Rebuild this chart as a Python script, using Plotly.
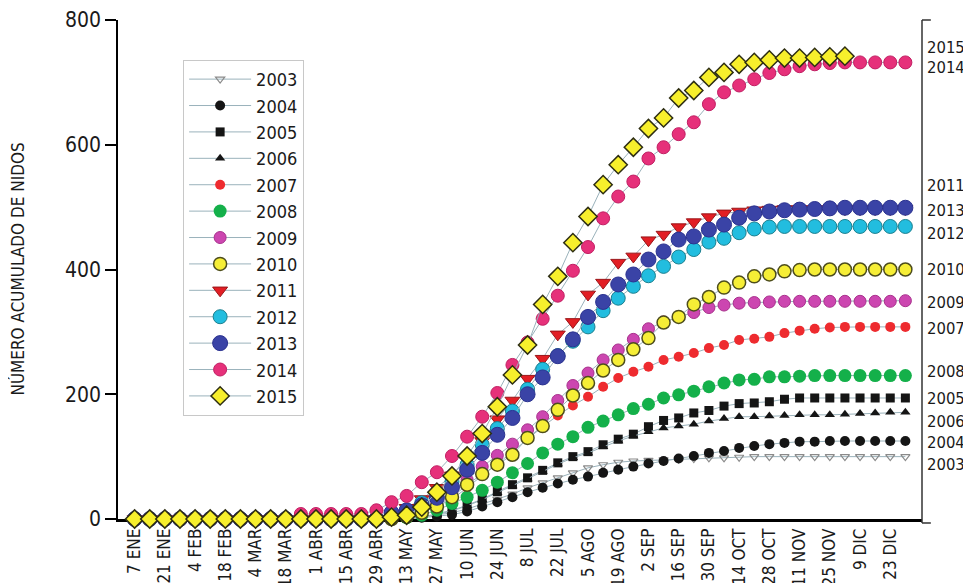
import plotly.graph_objects as go

# weekly census dates (x categories)
WEEKS = ["7 ENE", "14 ENE", "21 ENE", "28 ENE", "4 FEB", "11 FEB", "18 FEB", "25 FEB",
         "4 MAR", "11 MAR", "18 MAR", "25 MAR", "1 ABR", "8 ABR", "15 ABR", "22 ABR",
         "29 ABR", "6 MAY", "13 MAY", "20 MAY", "27 MAY", "3 JUN", "10 JUN", "17 JUN",
         "24 JUN", "1 JUL", "8 JUL", "15 JUL", "22 JUL", "29 JUL", "5 AGO", "12 AGO",
         "19 AGO", "26 AGO", "2 SEP", "9 SEP", "16 SEP", "23 SEP", "30 SEP", "7 OCT",
         "14 OCT", "21 OCT", "28 OCT", "4 NOV", "11 NOV", "18 NOV", "25 NOV", "2 DIC",
         "9 DIC", "16 DIC", "23 DIC", "30 DIC"]

TICK_LABELS = ["7 ENE", "21 ENE", "4 FEB", "18 FEB", "4 MAR", "18 MAR", "1 ABR", "15 ABR",
               "29 ABR", "13 MAY", "27 MAY", "10 JUN", "24 JUN", "8 JUL", "22 JUL", "5 AGO",
               "19 AGO", "2 SEP", "16 SEP", "30 SEP", "14 OCT", "28 OCT", "11 NOV", "25 NOV",
               "9 DIC", "23 DIC"]

Y2003 = [0, 0, 0, 0, 0, 0, 0, 0, 0, 0, 0, 0, 0, 0, 0, 0, 0, 0,
         1, 3, 6, 10, 16, 24, 32, 40, 50, 58, 66, 74, 82, 87, 91, 93, 94, 95, 96, 97,
         98, 98, 99, 100, 100, 100, 100, 100, 100, 100, 100, 100, 100, 100]
Y2004 = [0, 0, 0, 0, 0, 0, 0, 0, 0, 0, 0, 0, 0, 0, 0, 0, 0, 0,
         0, 2, 4, 7, 12, 20, 27, 35, 43, 50, 57, 63, 68, 74, 79, 84, 89, 93, 97, 101,
         106, 109, 114, 117, 120, 122, 124, 124, 125, 125, 125, 125, 125, 125]
Y2005 = [0, 0, 0, 0, 0, 0, 0, 0, 0, 0, 0, 0, 0, 0, 0, 0, 0, 0,
         1, 3, 8, 14, 22, 32, 44, 55, 66, 78, 90, 100, 108, 119, 128, 136, 148, 158, 162, 170,
         174, 181, 185, 186, 188, 192, 194, 194, 194, 194, 194, 194, 194, 194]
Y2006 = [0, 0, 0, 0, 0, 0, 0, 0, 0, 0, 0, 0, 0, 0, 0, 0, 0, 0,
         1, 3, 7, 13, 21, 31, 42, 53, 64, 76, 88, 98, 106, 116, 125, 133, 140, 146, 149, 152,
         157, 161, 164, 164, 165, 166, 167, 167, 167, 168, 169, 170, 171, 171]
Y2007 = [0, 0, 0, 0, 0, 0, 0, 0, 0, 0, 0, 0, 0, 0, 0, 0, 0, 0,
         3, 10, 20, 32, 50, 70, 88, 108, 128, 148, 166, 182, 196, 212, 226, 236, 244, 255, 260, 266,
         274, 279, 287, 289, 292, 298, 302, 305, 307, 308, 308, 308, 308, 308]
Y2008 = [0, 0, 0, 0, 0, 0, 0, 0, 0, 0, 0, 0, 0, 0, 0, 0, 0, 0,
         2, 6, 14, 25, 35, 46, 59, 74, 89, 106, 120, 132, 147, 157, 167, 177, 184, 194, 199, 205,
         212, 218, 223, 224, 228, 228, 229, 230, 230, 230, 230, 230, 230, 230]
Y2009 = [0, 0, 0, 0, 0, 0, 0, 0, 0, 0, 0, 0, 0, 0, 0, 0, 0,
         2, 5, 14, 27, 44, 63, 84, 102, 120, 143, 164, 190, 214, 234, 255, 271, 288, 305, 316, 324,
         331, 339, 343, 346, 347, 348, 349, 349, 349, 349, 349, 349, 349, 349, 350]
Y2010 = [0, 0, 0, 0, 0, 0, 0, 0, 0, 0, 0, 0, 0, 0, 0, 0, 0, 0,
         4, 10, 20, 35, 55, 72, 87, 103, 130, 149, 175, 198, 218, 238, 255, 272, 290, 315, 324, 344,
         356, 371, 379, 389, 392, 397, 399, 400, 400, 400, 400, 400, 400, 400]
Y2011 = [0, 0, 0, 0, 0, 0, 0, 0, 0, 0, 0, 0, 0, 0, 0, 0, 0,
         8, 18, 32, 50, 70, 95, 125, 160, 190, 225, 257, 296, 316, 360, 379, 411, 421, 447, 456, 468,
         476, 484, 490, 493, 495, 496, 497, 497, 497, 497, 497, 497, 497, 497, 497]
Y2012 = [0, 0, 0, 0, 0, 0, 0, 0, 0, 0, 0, 0, 0, 0, 0, 0, 0,
         8, 14, 26, 42, 60, 87, 119, 145, 173, 208, 240, 262, 285, 308, 334, 354, 373, 390, 405, 420,
         432, 444, 450, 459, 465, 468, 469, 469, 469, 469, 469, 469, 469, 469, 469]
Y2013 = [0, 0, 0, 0, 0, 0, 0, 0, 0, 0, 0, 0, 0, 0, 0, 0, 0,
         10, 14, 22, 34, 51, 79, 106, 135, 162, 200, 227, 261, 288, 324, 348, 376, 392, 416, 429, 448,
         453, 464, 472, 483, 490, 493, 495, 496, 497, 498, 499, 499, 499, 499, 499]
Y2014 = [0, 0, 0, 0, 0, 0, 0, 0, 0, 0, 0,
         8, 8, 8, 8, 8, 14, 27, 37, 59, 75, 101, 132, 164, 202, 247, 283, 321, 358, 398, 436,
         482, 517, 541, 578, 596, 617, 636, 665, 684, 695, 705, 715, 721, 726, 729, 731,
         732, 732, 732, 732, 732]
Y2015 = [0, 0, 0, 0, 0, 0, 0, 0, 0, 0, 0, 0, 0, 0, 0, 0, 0,
         3, 6, 19, 43, 69, 101, 137, 180, 231, 279, 344, 389, 443, 485, 536, 568, 596, 626, 643, 675,
         687, 708, 716, 729, 732, 736, 739, 739, 740, 741, 742, None, None, None, None]

YEARS = ["2003", "2004", "2005", "2006", "2007", "2008", "2009", "2010",
         "2011", "2012", "2013", "2014", "2015"]
SERIES = [Y2003, Y2004, Y2005, Y2006, Y2007, Y2008, Y2009, Y2010,
          Y2011, Y2012, Y2013, Y2014, Y2015]

# right-hand end labels (label text, value where the label sits)
END_LABELS = ["2015", "2014", "2011", "2013", "2012", "2010", "2009", "2007",
              "2008", "2005", "2006", "2004", "2003"]
END_LABEL_Y = [756, 724, 535, 495, 458, 400, 347, 305, 236, 193, 157, 122, 87]

# styles: (symbol, size, fill, border, border width)
STYLES = {
    "2003": ("triangle-down-open", 8, "#8a8a8a", "#8a8a8a", 1.2),
    "2004": ("circle", 10, "#151515", "#151515", 0),
    "2005": ("square", 9, "#151515", "#151515", 0),
    "2006": ("triangle-up", 9, "#151515", "#151515", 0),
    "2007": ("circle", 10, "#ee2b2f", "#ee2b2f", 0),
    "2008": ("circle", 13, "#14b04a", "#14b04a", 0),
    "2009": ("circle", 12, "#cc46b0", "#a8308c", 1),
    "2010": ("circle", 13, "#f6ee36", "#4d4d1c", 1.5),
    "2011": ("triangle-down", 13, "#e21e24", "#9a1518", 1),
    "2012": ("circle", 14, "#22bddf", "#1b7f8e", 1),
    "2013": ("circle", 15, "#3a43a6", "#2b3290", 1),
    "2014": ("circle", 13, "#e6307a", "#c01e62", 1),
    "2015": ("diamond", 14, "#f7ef2c", "#2e2e12", 1.5),
}

FONT = "DejaVu Sans Condensed, Liberation Sans Narrow, sans-serif"

fig = go.Figure()
for name, ys in zip(YEARS, SERIES):
    sym, size, fill, border, bw = STYLES[name]
    fig.add_trace(go.Scatter(
        x=WEEKS, y=ys, name=name, mode="lines+markers",
        line=dict(color="#9ab2bb", width=1),
        marker=dict(symbol=sym, size=size, color=fill,
                    line=dict(color=border, width=bw)),
        cliponaxis=False,
    ))

annotations = []
for txt, yv in zip(END_LABELS, END_LABEL_Y):
    annotations.append(dict(x=1, xref="paper", y=yv, yref="y", text=txt,
                            showarrow=False, xanchor="left", yanchor="middle",
                            xshift=3, font=dict(size=16.5, color="#1a1a1a", family=FONT)))
annotations.append(dict(x=-0.1256, xref="paper", y=0.5, yref="paper",
                        text="NÚMERO ACUMULADO DE NIDOS", textangle=-90,
                        showarrow=False, xanchor="center", yanchor="middle",
                        font=dict(size=17, color="#1a1a1a", family=FONT)))

shapes = [
    dict(type="line", xref="paper", yref="paper", x0=1, x1=1, y0=-0.008, y1=1,
         line=dict(color="#333333", width=1.5)),
    dict(type="line", xref="paper", yref="paper", x0=1, x1=1.011, y0=1, y1=1,
         line=dict(color="#333333", width=1.5)),
    dict(type="line", xref="paper", yref="paper", x0=1, x1=1.011, y0=-0.008, y1=-0.008,
         line=dict(color="#333333", width=1.5)),
]

# the page body adds an 8px offset, so the figure is 8px smaller and margins shifted
fig.update_layout(
    width=963, height=575,
    margin=dict(l=110, r=49, t=12, b=64, autoexpand=False),
    paper_bgcolor="white", plot_bgcolor="white",
    font=dict(family=FONT, color="#1a1a1a"),
    showlegend=True,
    legend=dict(x=0.081, y=0.92, xanchor="left", yanchor="top",
                bgcolor="white", bordercolor="#c8c8c8", borderwidth=1,
                font=dict(size=18, family=FONT, color="#1a1a1a"),
                tracegroupgap=0, itemsizing="trace", itemwidth=62),
    annotations=annotations,
    shapes=shapes,
    xaxis=dict(type="category", categoryorder="array", categoryarray=WEEKS,
               range=[-1.1, 52.1], tickmode="array", tickvals=TICK_LABELS,
               ticktext=TICK_LABELS, tickangle=-90, ticks="", showgrid=False,
               zeroline=False, showline=True, linecolor="black", linewidth=2.5,
               tickfont=dict(size=17, family=FONT, color="#1a1a1a"),
               layer="below traces", automargin=False),
    yaxis=dict(range=[0, 800], tickvals=[0, 200, 400, 600, 800],
               ticks="outside", ticklen=11, tickwidth=1.5, tickcolor="black",
               showline=True, linecolor="black", linewidth=1.5, showgrid=False,
               zeroline=False, automargin=False,
               tickfont=dict(size=21, family=FONT, color="#1a1a1a")),
)

fig.write_html("out.html")
